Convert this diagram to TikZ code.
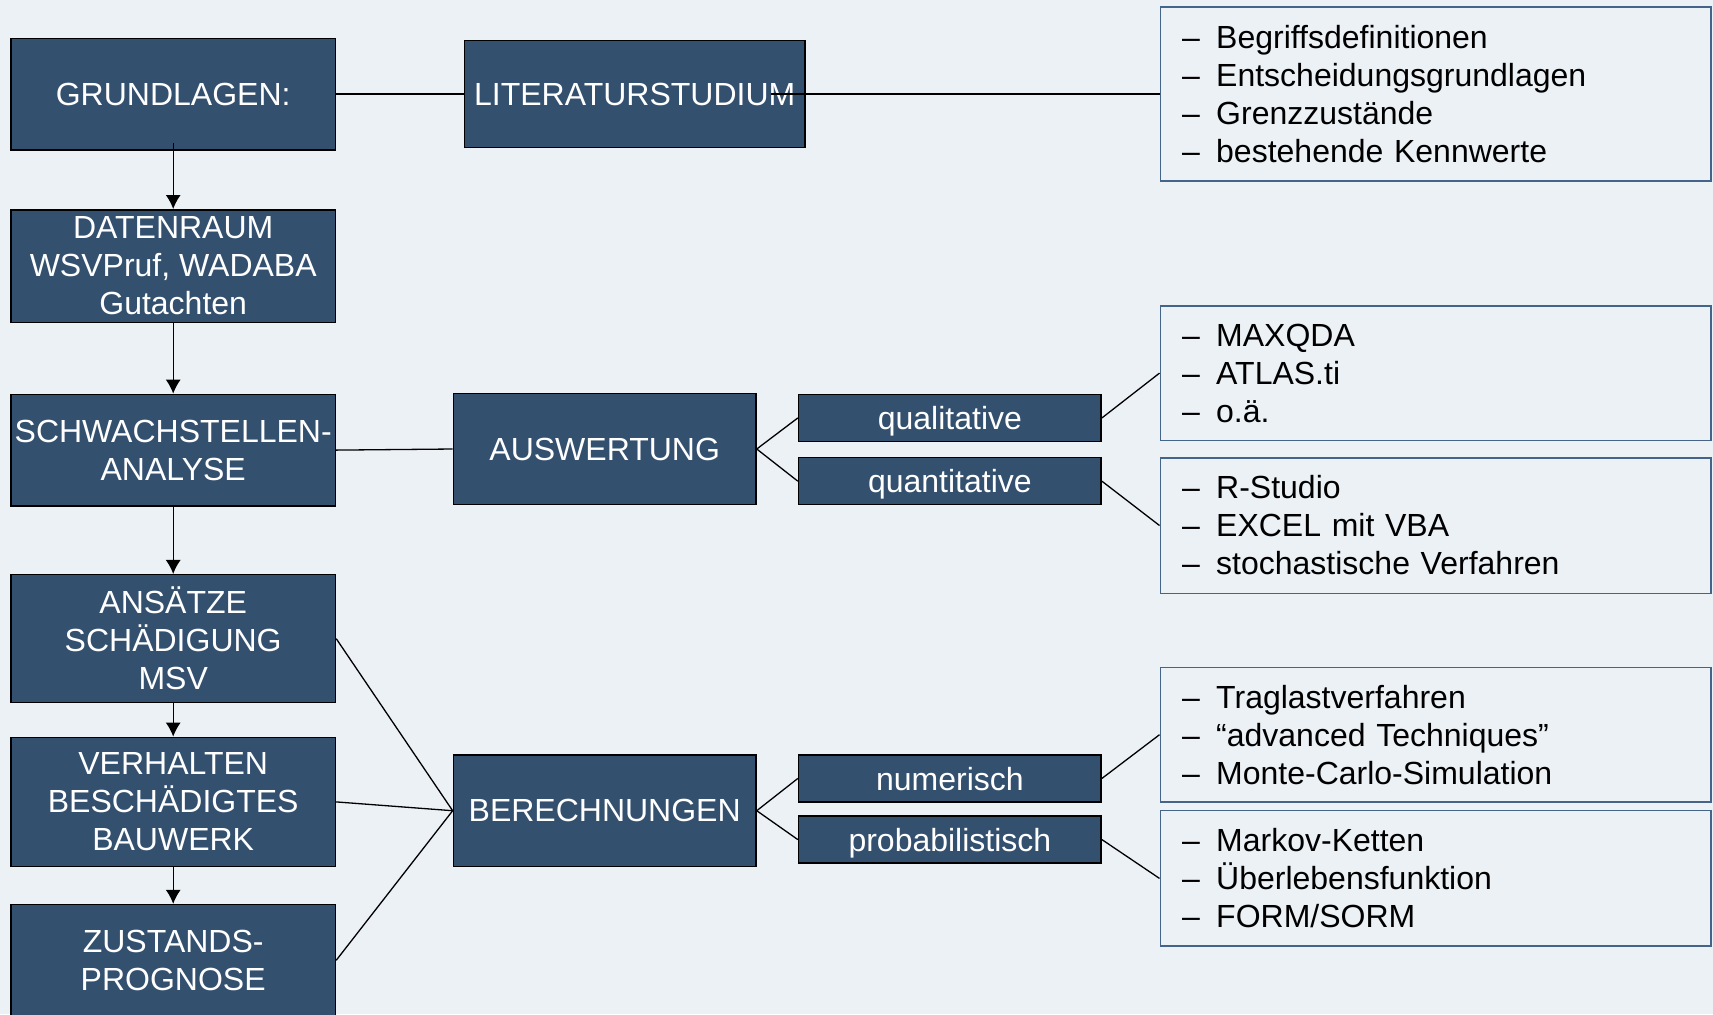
\documentclass[tikz,border=0pt]{standalone}
\usepackage{fontspec}
\setmainfont{Liberation Sans}
\usetikzlibrary{arrows.meta}
\definecolor{bgcol}{HTML}{ECF1F6}
\definecolor{boxblue}{HTML}{34506F}
\definecolor{listframe}{HTML}{44648A}
\tikzset{
  darkbox/.style={draw=black, line width=0.75pt, fill=boxblue, text=white,
    font=\fontsize{16}{19}\selectfont, align=center, inner sep=0pt},
  smallbox/.style={darkbox, minimum width=151.3pt, minimum height=23.5pt, text depth=0pt},
  listbox/.style={draw=listframe, line width=0.7pt, text=black,
    font=\fontsize{16}{19}\selectfont, align=left, inner xsep=11pt, inner ysep=0pt,
    text width=253.3pt, minimum width=275.3pt},
  conn/.style={draw=black, line width=0.65pt},
  arr/.style={conn, -{Latex[length=7pt,width=7.5pt]}}
}
\newcommand{\itm}[1]{\makebox[17pt][l]{–}#1}
\begin{document}
\begin{tikzpicture}[x=0.5pt,y=-0.5pt]
\useasboundingbox (0,0) rectangle (1713,1014);
\fill[bgcol] (0,0) rectangle (1713,1014);
\clip (0,0) rectangle (1713,1014);

% left column
\node[darkbox, minimum width=162.25pt, minimum height=55.75pt] (grund) at (173.2,94.0) {GRUNDLAGEN:};
\node[darkbox, minimum width=162.25pt, minimum height=56.25pt] (daten) at (173.2,266.0) {DATENRAUM\\WSVPruf, WADABA\\Gutachten};
\node[darkbox, minimum width=162.25pt, minimum height=55.7pt] (schw) at (173.2,450.1) {SCHWACHSTELLEN-\\ANALYSE};
\node[darkbox, minimum width=162.25pt, minimum height=63.9pt] (ans) at (173.2,638.6) {ANSÄTZE\\SCHÄDIGUNG\\MSV};
\node[darkbox, minimum width=162.25pt, minimum height=64.5pt] (verh) at (173.2,801.9) {VERHALTEN\\BESCHÄDIGTES\\BAUWERK};
\node[darkbox, minimum width=162.25pt, minimum height=55.7pt] (zust) at (173.2,960.3) {ZUSTANDS-\\PROGNOSE};

% middle column
\node[darkbox, minimum width=170.45pt, minimum height=53.55pt] (lit) at (634.7,94.0) {LITERATURSTUDIUM};
\node[darkbox, minimum width=151.3pt, minimum height=55.7pt] (ausw) at (604.7,449.0) {AUSWERTUNG};
\node[darkbox, minimum width=151.3pt, minimum height=55.7pt] (ber) at (604.7,810.7) {BERECHNUNGEN};

\node[smallbox] (qual) at (949.9,417.9) {qualitative};
\node[smallbox] (quan) at (949.9,481.2) {quantitative};
\node[smallbox] (num) at (949.9,778.4) {numerisch};
\node[smallbox] (prob) at (949.9,839.6) {probabilistisch};

% right column
\node[listbox, minimum height=86.85pt] (l1) at (1435.5,94.0)
  {\itm{Begriffsdefinitionen}\\\itm{Entscheidungsgrundlagen}\\\itm{Grenzzustände}\\\itm{bestehende Kennwerte}};
\node[listbox, minimum height=67.2pt] (l2) at (1435.5,373.1)
  {\itm{MAXQDA}\\\itm{ATLAS.ti}\\\itm{o.ä.}};
\node[listbox, minimum height=67.7pt] (l3) at (1435.5,525.5)
  {\itm{R-Studio}\\\itm{EXCEL mit VBA}\\\itm{stochastische Verfahren}};
\node[listbox, minimum height=67.2pt] (l4) at (1435.5,734.7)
  {\itm{Traglastverfahren}\\\itm{“advanced Techniques”}\\\itm{Monte-Carlo-Simulation}};
\node[listbox, minimum height=67.7pt] (l5) at (1435.5,878.4)
  {\itm{Markov-Ketten}\\\itm{Überlebensfunktion}\\\itm{FORM/SORM}};

% connectors
\draw[conn] (grund.east) -- (lit.west);
\draw[conn] ([xshift=-17.5pt]lit.east) -- (l1.west);
\draw[conn] (schw.east) -- (ausw.west);
\draw[conn] (ausw.east) -- (qual.west);
\draw[conn] (ausw.east) -- (quan.west);
\draw[conn] (qual.east) -- (l2.west);
\draw[conn] (quan.east) -- (l3.west);
\draw[conn] (ans.east) -- (ber.west);
\draw[conn] (verh.east) -- (ber.west);
\draw[conn] (zust.east) -- (ber.west);
\draw[conn] (ber.east) -- (num.west);
\draw[conn] (ber.east) -- (prob.west);
\draw[conn] (num.east) -- (l4.west);
\draw[conn] (prob.east) -- (l5.west);

% arrows
\draw[arr] ([yshift=4pt]grund.south) -- (daten.north);
\draw[arr] (daten.south) -- (schw.north);
\draw[arr] (schw.south) -- (ans.north);
\draw[arr] (ans.south) -- (verh.north);
\draw[arr] (verh.south) -- (zust.north);
\end{tikzpicture}
\end{document}
